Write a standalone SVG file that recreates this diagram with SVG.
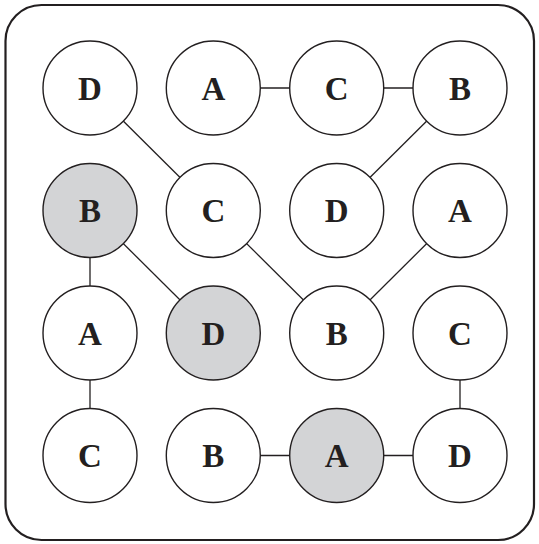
<svg xmlns="http://www.w3.org/2000/svg" width="539" height="544" viewBox="0 0 539 544">
<style>
.n{fill:#fff;stroke:#231f20;stroke-width:1.4}
.g{fill:#d3d4d6}
.t{font-family:"Liberation Serif",serif;font-weight:bold;font-size:33px;fill:#231f20;text-anchor:middle}
#edges line{stroke:#231f20;stroke-width:1.3}
</style>
<rect x="5.5" y="5" width="528.5" height="535" rx="36" fill="#fff" stroke="#231f20" stroke-width="2.2"/>
<g id="edges">
<line x1="90" y1="88" x2="213.3" y2="210.5"/>
<line x1="213.3" y1="88" x2="336.7" y2="88"/>
<line x1="336.7" y1="88" x2="460" y2="88"/>
<line x1="460" y1="88" x2="336.7" y2="210.5"/>
<line x1="90" y1="210.5" x2="90" y2="333"/>
<line x1="90" y1="210.5" x2="213.3" y2="333"/>
<line x1="213.3" y1="210.5" x2="336.7" y2="333"/>
<line x1="460" y1="210.5" x2="336.7" y2="333"/>
<line x1="90" y1="333" x2="90" y2="455.5"/>
<line x1="460" y1="333" x2="460" y2="455.5"/>
<line x1="213.3" y1="455.5" x2="336.7" y2="455.5"/>
<line x1="336.7" y1="455.5" x2="460" y2="455.5"/>
</g>
<g id="n00"><circle class="n" cx="90" cy="88" r="47"/><text class="t" x="90" y="99.5">D</text></g>
<g id="n01"><circle class="n" cx="213.3" cy="88" r="47"/><text class="t" x="213.3" y="99.5">A</text></g>
<g id="n02"><circle class="n" cx="336.7" cy="88" r="47"/><text class="t" x="336.7" y="99.5">C</text></g>
<g id="n03"><circle class="n" cx="460" cy="88" r="47"/><text class="t" x="460" y="99.5">B</text></g>
<g id="n10"><circle class="n g" cx="90" cy="210.5" r="47"/><text class="t" x="90" y="222">B</text></g>
<g id="n11"><circle class="n" cx="213.3" cy="210.5" r="47"/><text class="t" x="213.3" y="222">C</text></g>
<g id="n12"><circle class="n" cx="336.7" cy="210.5" r="47"/><text class="t" x="336.7" y="222">D</text></g>
<g id="n13"><circle class="n" cx="460" cy="210.5" r="47"/><text class="t" x="460" y="222">A</text></g>
<g id="n20"><circle class="n" cx="90" cy="333" r="47"/><text class="t" x="90" y="344.5">A</text></g>
<g id="n21"><circle class="n g" cx="213.3" cy="333" r="47"/><text class="t" x="213.3" y="344.5">D</text></g>
<g id="n22"><circle class="n" cx="336.7" cy="333" r="47"/><text class="t" x="336.7" y="344.5">B</text></g>
<g id="n23"><circle class="n" cx="460" cy="333" r="47"/><text class="t" x="460" y="344.5">C</text></g>
<g id="n30"><circle class="n" cx="90" cy="455.5" r="47"/><text class="t" x="90" y="467">C</text></g>
<g id="n31"><circle class="n" cx="213.3" cy="455.5" r="47"/><text class="t" x="213.3" y="467">B</text></g>
<g id="n32"><circle class="n g" cx="336.7" cy="455.5" r="47"/><text class="t" x="336.7" y="467">A</text></g>
<g id="n33"><circle class="n" cx="460" cy="455.5" r="47"/><text class="t" x="460" y="467">D</text></g>
</svg>
